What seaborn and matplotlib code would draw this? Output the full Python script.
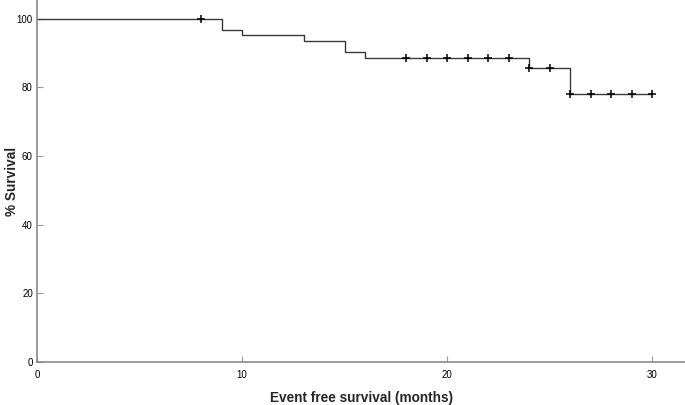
"""
Kaplan-Meier 曲线复现：事件生存期（月）
"""

import numpy as np
import pandas as pd
import matplotlib
matplotlib.use('Agg')
import matplotlib.pyplot as plt
import seaborn as sns

# 阶梯曲线（事件时间点 -> 生存率）
step_times = [0, 9, 10, 13, 15, 16, 24, 26, 30]
step_surv = [100, 96.8, 95.2, 93.5, 90.3, 88.7, 85.8, 78.0, 78.0]

# 删失时间点
censor_times = [8, 18, 19, 20, 21, 22, 23, 24, 25, 26, 27, 28, 29, 30]

x_ticks = [0, 10, 20, 30]
y_ticks = [0, 20, 40, 60, 80, 100]


def surv_at(t):
    """取 t 时刻的生存率（右连续）"""
    idx = np.searchsorted(step_times, t, side='right') - 1
    return step_surv[idx]


def main():
    sns.set_style('ticks')
    plt.rcParams['font.family'] = ['Liberation Sans', 'DejaVu Sans']

    curve = pd.DataFrame({'time': step_times, 'surv': step_surv})
    censor = pd.DataFrame({'time': censor_times,
                           'surv': [surv_at(t) for t in censor_times]})

    fig = plt.figure(figsize=(6.85, 4.05), dpi=100)
    ax = fig.add_axes([37 / 685, 1 - 362 / 405, 1 - 37 / 685, 362 / 405])

    sns.lineplot(data=curve, x='time', y='surv', ax=ax, color='#3a3a3a',
                 linewidth=1.0, drawstyle='steps-post', estimator=None,
                 sort=False)
    sns.scatterplot(data=censor, x='time', y='surv', ax=ax, marker='+',
                    s=30, color='black', linewidth=1.1, zorder=3)

    ax.set_xlim(0, 648 / 20.5)
    ax.set_ylim(0, 105.5)
    ax.set_xticks(x_ticks)
    ax.set_yticks(y_ticks)
    ax.tick_params(direction='in', length=4, width=0.8, colors='#999999',
                   labelcolor='black', labelsize=7)
    ax.tick_params(axis='x', pad=6)
    ax.tick_params(axis='y', pad=3)

    for side in ['top', 'right']:
        ax.spines[side].set_visible(False)
    for side in ['left', 'bottom']:
        ax.spines[side].set_color('#8a8a8a')
        ax.spines[side].set_linewidth(1.2)

    ax.set_xlabel('Event free survival (months)', fontsize=9.8, fontweight='bold')
    ax.set_ylabel('% Survival', fontsize=9.8, fontweight='bold')
    ax.xaxis.set_label_coords(0.5, -29 / 362)
    ax.yaxis.set_label_coords(-18 / 648, 0.5)

    fig.savefig('out.png', dpi=100)
    plt.close(fig)


if __name__ == "__main__":
    main()
